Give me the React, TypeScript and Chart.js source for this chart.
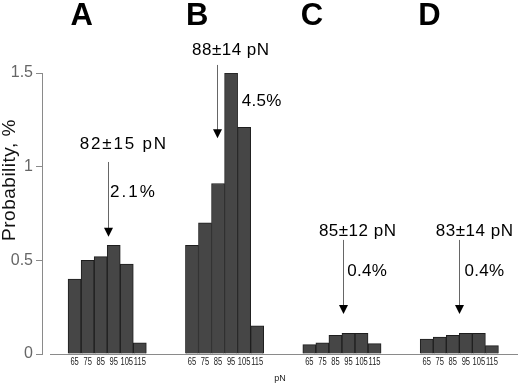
import React, { useEffect, useRef } from "react";
import { Chart, registerables } from "chart.js";

Chart.register(...registerables);

// ---- data ----
const binLabels = ["65", "75", "85", "95", "105", "115"];
const panelLetters = ["A", "B", "C", "D"];
const probA = [0.40, 0.50, 0.52, 0.58, 0.48, 0.06];
const probB = [0.58, 0.70, 0.91, 1.50, 1.21, 0.15];
const probC = [0.05, 0.06, 0.10, 0.11, 0.11, 0.055];
const probD = [0.08, 0.09, 0.10, 0.11, 0.11, 0.045];
const meanLabels = ["82±15 pN", "88±14 pN", "85±12 pN", "83±14 pN"];
const percentLabels = ["2.1%", "4.5%", "0.4%", "0.4%"];
const yTickValues = [0, 0.5, 1, 1.5];

// ---- annotation layout (x in bin units within a group, y in axis units) ----
const GROUP_STRIDE = 9;
const letterX = [0.55, 0.4, 0.2, 0.2];
const letterY = 1.8;
const arrowX = [2.54, 1.93, 2.6, 2.5];
const arrowTop = [1.025, 1.543, 0.609, 0.609];
const arrowTip = [0.626, 1.152, 0.214, 0.214];
const meanX = [3.7, 2.9, 3.63, 3.6];
const meanY = [1.12, 1.623, 0.657, 0.657];
const meanSpacing = [1.8, 0.5, 0.5, 0.5];
const pctX = [2.72, 3.82, 2.9, 2.9];
const pctY = [0.865, 1.347, 0.443, 0.443];
const pctSpacing = [2, 0.3, 0.3, 0.3];

const series = [probA, probB, probC, probD];

const FONT = "'Liberation Sans', Arial, sans-serif";

const annotPlugin = {
  id: "annot",
  beforeDatasetsDraw(chart: any) {
    const { ctx, chartArea, scales } = chart;
    const y0 = Math.round(scales.y.getPixelForValue(0)) + 0.5;
    ctx.save();
    ctx.strokeStyle = "#8a8a8a";
    ctx.lineWidth = 1;
    ctx.beginPath();
    ctx.moveTo(chartArea.left + 8, y0);
    ctx.lineTo(chartArea.right, y0);
    ctx.stroke();
    ctx.restore();
  },
  afterDatasetsDraw(chart: any) {
    const { ctx, scales } = chart;
    const xs = scales.x;
    const ys = scales.y;
    const yBase = ys.getPixelForValue(0);
    ctx.save();
    // y title
    ctx.save();
    ctx.translate(10, 180);
    ctx.rotate(-Math.PI / 2);
    ctx.font = `19px ${FONT}`;
    (ctx as any).letterSpacing = "0.5px";
    ctx.fillStyle = "#111";
    ctx.textAlign = "center";
    ctx.textBaseline = "middle";
    ctx.fillText("Probability, %", 0, 0);
    ctx.restore();

    // condensed x tick labels
    (ctx as any).letterSpacing = "0px";
    ctx.fillStyle = "#222";
    ctx.textAlign = "center";
    ctx.textBaseline = "middle";
    ctx.font = `10.5px ${FONT}`;
    series.forEach((vals, g) => {
      vals.forEach((_, i) => {
        const px = xs.getPixelForValue(g * GROUP_STRIDE + i);
        ctx.save();
        ctx.translate(px, yBase + 8);
        ctx.scale(0.72, 1);
        ctx.fillText(binLabels[i], 0, 0);
        ctx.restore();
      });
    });

    panelLetters.forEach((letter, g) => {
      const base = g * GROUP_STRIDE;
      // panel letter
      ctx.font = `bold 31px ${FONT}`;
      (ctx as any).letterSpacing = "0px";
      ctx.fillStyle = "#000";
      ctx.textAlign = "center";
      ctx.textBaseline = "middle";
      ctx.fillText(letter, xs.getPixelForValue(base + letterX[g]), ys.getPixelForValue(letterY));

      // arrow
      const ax = Math.round(xs.getPixelForValue(base + arrowX[g])) + 0.5;
      const top = ys.getPixelForValue(arrowTop[g]);
      const tip = ys.getPixelForValue(arrowTip[g]);
      ctx.strokeStyle = "#666";
      ctx.lineWidth = 1;
      ctx.beginPath();
      ctx.moveTo(ax, top);
      ctx.lineTo(ax, tip - 6);
      ctx.stroke();
      ctx.fillStyle = "#000";
      ctx.beginPath();
      ctx.moveTo(ax - 4.5, tip - 9);
      ctx.lineTo(ax + 4.5, tip - 9);
      ctx.lineTo(ax, tip);
      ctx.closePath();
      ctx.fill();

      // mean text
      ctx.font = `17px ${FONT}`;
      (ctx as any).letterSpacing = `${meanSpacing[g]}px`;
      ctx.fillStyle = "#000";
      ctx.textAlign = "center";
      ctx.textBaseline = "middle";
      ctx.fillText(meanLabels[g], xs.getPixelForValue(base + meanX[g]) + 1, ys.getPixelForValue(meanY[g]));

      // percent text
      (ctx as any).letterSpacing = `${pctSpacing[g]}px`;
      ctx.textAlign = "left";
      ctx.fillText(percentLabels[g], xs.getPixelForValue(base + pctX[g]), ys.getPixelForValue(pctY[g]));
    });
    ctx.restore();
  },
};

export default function App() {
  const canvasRef = useRef<HTMLCanvasElement | null>(null);

  useEffect(() => {
    if (!canvasRef.current) return;
    const points: { x: number; y: number }[] = [];
    series.forEach((vals, g) => {
      vals.forEach((v, i) => points.push({ x: g * GROUP_STRIDE + i, y: v }));
    });

    const chart = new Chart(canvasRef.current, {
      type: "bar",
      data: {
        datasets: [
          {
            data: points as any,
            backgroundColor: "#464646",
            borderColor: "#1e1e1e",
            borderWidth: 1,
            barPercentage: 1,
            categoryPercentage: 1,
          },
        ],
      },
      options: {
        animation: false,
        responsive: true,
        maintainAspectRatio: false,
        layout: { padding: { top: 73, right: 2, left: 0, bottom: 0 } },
        plugins: { legend: { display: false }, tooltip: { enabled: false } },
        scales: {
          x: {
            type: "linear",
            offset: false,
            min: -2.5,
            max: 34,
            grid: { display: false, drawTicks: false },
            border: { display: false },
            afterFit: (axis: any) => {
              axis.height = 32;
            },
            ticks: { display: false },
            title: {
              display: true,
              text: "pN",
              color: "#222",
              font: { family: FONT, size: 9 },
              padding: { top: 0, bottom: 2 },
            },
          },
          y: {
            min: 0,
            max: 1.5,
            afterFit: (axis: any) => {
              axis.width = 42;
            },
            afterBuildTicks: (axis: any) => {
              axis.ticks = yTickValues.map((v) => ({ value: v }));
            },
            border: { display: true, color: "#8a8a8a" },
            grid: {
              display: true,
              drawOnChartArea: false,
              drawTicks: true,
              tickLength: 6,
              color: "#8a8a8a",
            },
            ticks: {
              padding: 3,
              color: "#666",
              font: { family: FONT, size: 16 },
              callback: (value: any) => String(Number(value)),
            },
          },
        },
      },
      plugins: [annotPlugin],
    });
    return () => chart.destroy();
  }, []);

  return (
    <div style={{ position: "fixed", left: 0, top: 0, width: 520, height: 386, background: "#fff" }}>
      <canvas ref={canvasRef} />
    </div>
  );
}
